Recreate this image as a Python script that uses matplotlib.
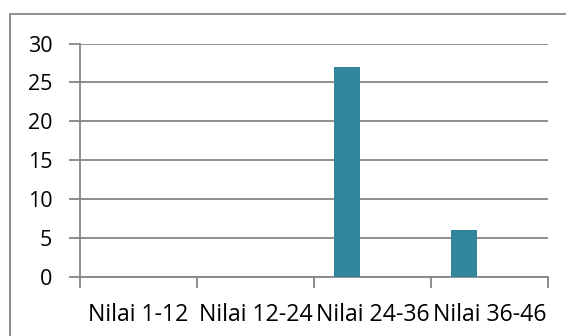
import matplotlib
matplotlib.use("Agg")
import matplotlib.pyplot as plt
from matplotlib.patches import Rectangle
import numpy as np

categories = ["Nilai 1-12", "Nilai 12-24", "Nilai 24-36", "Nilai 36-46"]
values = [0, 0, 27, 6]
yticks = [0, 5, 10, 15, 20, 25, 30]

W, H, DPI = 566, 336, 100
fig = plt.figure(figsize=(W / DPI, H / DPI), dpi=DPI)
plt.rcParams["font.family"] = ["Open Sans", "DejaVu Sans"]

grid_c = "#868686"
bar_c = "#31859C"

# chart frame
fig.add_artist(Rectangle((10 / W, -0.1), 1.2, 1 - 14 / H + 0.1,
                         transform=fig.transFigure, fill=False,
                         edgecolor=grid_c, linewidth=1.3))

ax = fig.add_axes([80 / W, 1 - 277 / H, (548 - 80) / W, (277 - 43.5) / H])

x = np.arange(len(categories))
bw = 1 / 4.5
ax.bar(x - 0.5 + 0.75 * bw + bw / 2, values, width=bw, color=bar_c, zorder=3)

ax.set_xlim(-0.5, len(categories) - 0.5)
ax.set_ylim(0, 30)
ax.set_yticks(yticks)
ax.set_yticklabels([str(v) for v in yticks])
ax.yaxis.grid(True, color=grid_c, linewidth=1.3)
ax.set_axisbelow(True)

ax.set_xticks(np.arange(-0.5, len(categories)), minor=False)
ax.set_xticklabels([])
ax.set_xticks(x, minor=True)
ax.set_xticklabels(categories, minor=True)
ax.tick_params(axis="x", which="major", length=8, width=1.3, color=grid_c, direction="out")
ax.tick_params(axis="x", which="minor", length=0, pad=19, labelsize=16.7)
ax.tick_params(axis="y", length=8, width=1.3, color=grid_c, pad=12, labelsize=15.5)

for s in ["top", "right"]:
    ax.spines[s].set_visible(False)
for s in ["left", "bottom"]:
    ax.spines[s].set_color(grid_c)
    ax.spines[s].set_linewidth(1.3)

fig.savefig("out.png", dpi=DPI)
